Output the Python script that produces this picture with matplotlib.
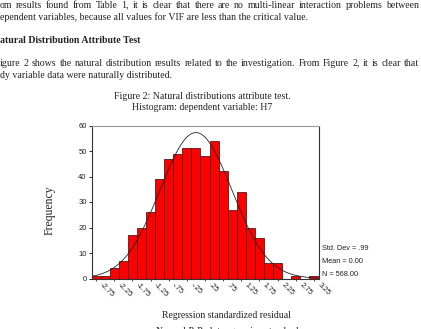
import numpy as np
import matplotlib
matplotlib.use("Agg")
import matplotlib.pyplot as plt
from matplotlib.transforms import IdentityTransform, ScaledTranslation

# histogram of regression standardized residuals (bin centres, width .25)
bin_centers = np.arange(-2.75, 3.26, 0.25)
counts = [1, 1, 4, 7, 17, 20, 26, 39, 47, 49, 51, 51, 48, 54, 42,
          27, 34, 20, 16, 6, 6, 0, 1, 0, 1]
tick_labels = ["-2.75", "-2.25", "-1.75", "-1.25", "-.75", "-.25", ".25",
               ".75", "1.25", "1.75", "2.25", "2.75", "3.25"]
std_dev = 0.99
mean = 0.00
n_obs = 568
bin_width = 0.25

stats_lines = ["Std. Dev = .99", "Mean = 0.00", "N = 568.00"]

body_lines = [
    ("om results found from Table 1, it is clear that there are no multi-linear interaction problems between", True, False),
    ("ependent variables, because all values for VIF are less than the critical value.", False, False),
    ("atural Distribution Attribute Test", False, True),
    ("igure 2 shows the natural distribution results related to the investigation. From Figure 2, it is clear that", True, False),
    ("dy variable data were naturally distributed.", False, False),
]
body_y = [324, 311.5, 288.5, 266, 253.5]

W, H = 421, 329
fig = plt.figure(figsize=(W / 100, H / 100), dpi=100)
fig.patch.set_facecolor("white")

serif = "Liberation Serif"
sans = "Liberation Sans"

# body text of the page
renderer = fig.canvas.get_renderer()
for (line, justify, bold), y in zip(body_lines, body_y):
    kw = dict(fontsize=7.1, family=serif, va="center", ha="left",
              transform=IdentityTransform(), color="#222222",
              fontweight="bold" if bold else "normal")
    if not justify:
        fig.text(0, y, line, **kw)
        continue
    words = line.split(" ")
    texts = [fig.text(0, y, w, **kw) for w in words]
    widths = [t.get_window_extent(renderer).width for t in texts]
    gap = (419 - sum(widths)) / (len(words) - 1)
    x = 0
    for t, w in zip(texts, widths):
        t.set_x(x)
        x += w + gap

fig.text(202 / W, 1 - 96.5 / H, "Figure 2: Natural distributions attribute test.",
         fontsize=7.1, family=serif, ha="center", va="center", color="#222222")
fig.text(202 / W, 1 - 107.5 / H, "Histogram: dependent variable: H7",
         fontsize=7.1, family=serif, ha="center", va="center", color="#222222")

# chart
ax = fig.add_axes([91.5 / W, 50.5 / H, 227 / W, 153 / H])
ax.bar(bin_centers, counts, width=bin_width, color="#ff0000",
       edgecolor="#3a0000", linewidth=0.5, zorder=2)

xs = np.linspace(-2.875, 3.375, 300)
ys = n_obs * bin_width / (std_dev * np.sqrt(2 * np.pi)) * np.exp(-0.5 * ((xs - mean) / std_dev) ** 2)
ax.plot(xs, ys, color="#222222", linewidth=0.6, zorder=3)

ax.set_xlim(-2.875, 3.375)
ax.set_ylim(0, 60)
ax.set_yticks(range(0, 61, 10))
ax.set_xticks(bin_centers[::2])
ax.set_xticklabels(tick_labels)
ax.tick_params(axis="y", length=2, width=0.6, pad=1.5, labelsize=5.5)
ax.tick_params(axis="x", length=1.5, width=0.5, pad=0.5, labelsize=5.5)
for lab in ax.get_yticklabels() + ax.get_xticklabels():
    lab.set_family(sans)
    lab.set_color("#222222")
shift = ScaledTranslation(7 / 100, 0, fig.dpi_scale_trans)
for lab in ax.get_xticklabels():
    lab.set_rotation(-45)
    lab.set_rotation_mode("anchor")
    lab.set_ha("left")
    lab.set_va("top")
    lab.set_transform(lab.get_transform() + shift)
for side in ["left", "bottom", "right"]:
    ax.spines[side].set_color("#333333")
    ax.spines[side].set_linewidth(0.8)
ax.spines["top"].set_color("#999999")
ax.spines["top"].set_linewidth(0.8)

for i, s in enumerate(stats_lines):
    fig.text(322 / W, 1 - (248.3 + i * 13) / H, s, fontsize=5.3, family=sans,
             ha="left", va="center", color="#222222")

fig.text(50 / W, 1 - 210 / H, "Frequency", fontsize=8.5, family=serif,
         rotation=90, ha="center", va="center", color="#222222")
fig.text(227 / W, 1 - 315 / H, "Regression standardized residual", fontsize=7,
         family=serif, ha="center", va="center", color="#222222")
fig.text(156 / W, 1 - 332 / H, "Normal P-P plot regression standard", fontsize=7,
         family=serif, ha="left", va="center", color="#222222")

fig.savefig("out.png", dpi=100)
